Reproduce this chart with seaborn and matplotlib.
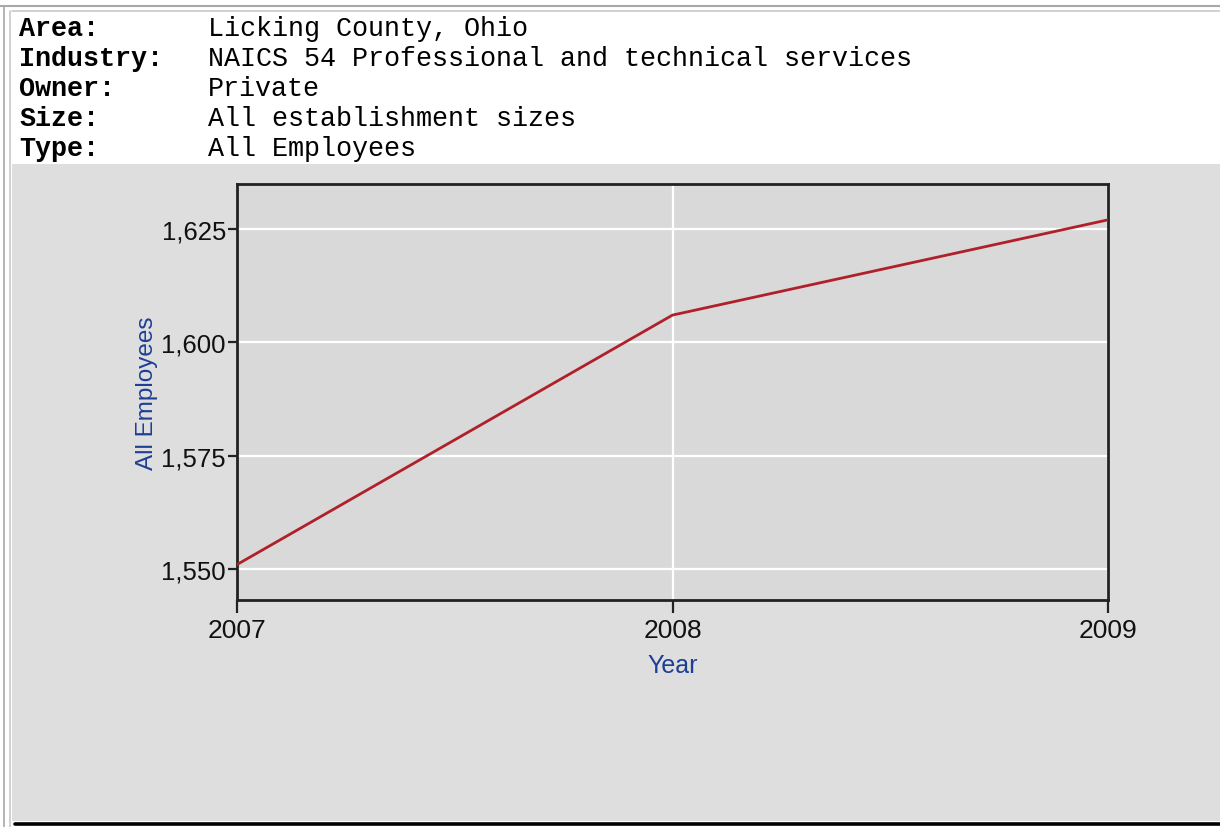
import matplotlib
matplotlib.use("Agg")
import matplotlib.pyplot as plt
from matplotlib.lines import Line2D
from matplotlib.patches import Rectangle
from matplotlib.ticker import FuncFormatter
import seaborn as sns
import pandas as pd

# ---- data ----
years = [2007, 2008, 2009]
employees = [1551, 1606, 1627]
y_ticks = [1550, 1575, 1600, 1625]
header_labels = ["Area:", "Industry:", "Owner:", "Size:", "Type:"]
header_values = ["Licking County, Ohio",
                 "NAICS 54 Professional and technical services",
                 "Private",
                 "All establishment sizes",
                 "All Employees"]

W, H = 1220, 828
sns.set_theme(style="white")
plt.rcParams['font.family'] = ['Liberation Sans', 'DejaVu Sans']

fig = plt.figure(figsize=(W / 100, H / 100), dpi=100)
fig.patch.set_facecolor("white")

def px(x, y):
    return x / W, 1 - y / H

# grey panel
x0, y0 = px(12, 822)
fig.add_artist(Rectangle((x0, y0), 1 - x0, (822 - 165) / H, transform=fig.transFigure,
                         facecolor="#dedede", edgecolor="none", zorder=0))
# borders
fig.add_artist(Line2D([0, 1], [1 - 7 / H] * 2, transform=fig.transFigure, color="#a8a8a8", lw=1.5))
fig.add_artist(Line2D([4 / W] * 2, [1 - 7 / H, 0], transform=fig.transFigure, color="#a8a8a8", lw=1.2))
fig.add_artist(Line2D([10 / W] * 2, [1 - 12 / H, 0], transform=fig.transFigure, color="#c8c8c8", lw=1.2))
fig.add_artist(Line2D([12 / W, 1], [1 - 12 / H] * 2, transform=fig.transFigure, color="#c8c8c8", lw=1.2))
fig.add_artist(Line2D([15 / W, 1], [1 - 824.5 / H] * 2, transform=fig.transFigure, color="black", lw=2.6))

# header text
for i, (lab, val) in enumerate(zip(header_labels, header_values)):
    yc = 29 + 30 * i
    fig.text(19 / W, 1 - yc / H, lab, family="Liberation Mono", fontweight="bold",
             fontsize=19.3, va="center", ha="left", color="black")
    fig.text(208 / W, 1 - yc / H, val, family="Liberation Mono",
             fontsize=19.3, va="center", ha="left", color="black")

# axes
left, right, top, bottom = 237, 1108, 185, 600.5
ax = fig.add_axes([left / W, 1 - bottom / H, (right - left) / W, (bottom - top) / H])
ax.set_facecolor("#d9d9d9")

df = pd.DataFrame({"Year": years, "All Employees": employees})
sns.lineplot(data=df, x="Year", y="All Employees", ax=ax, color="#b0202a", lw=2, zorder=3)

ax.set_xlim(2007, 2009)
ax.set_ylim(1543.3, 1634.9)
ax.set_xticks(years)
ax.set_yticks(y_ticks)
ax.yaxis.set_major_formatter(FuncFormatter(lambda v, p: f"{int(v):,}"))
ax.xaxis.set_major_formatter(FuncFormatter(lambda v, p: f"{int(v)}"))
ax.grid(True, color="white", lw=1.6, zorder=1)
ax.set_axisbelow(True)
for s in ax.spines.values():
    s.set_color("#222222")
    s.set_linewidth(2)
ax.tick_params(axis="x", bottom=True, length=9.5, width=1.6, color="#222222",
               labelsize=19, pad=3.5, labelcolor="#111111")
ax.tick_params(axis="y", left=True, length=6.5, width=1.6, color="#222222",
               labelsize=18.5, pad=1.5, labelcolor="#111111")
ax.set_xlabel("Year", fontsize=18, color="#1e3f96", labelpad=8)
ax.set_ylabel("All Employees", fontsize=17.5, color="#1e3f96", labelpad=2)

fig.savefig("out.png", dpi=100)
